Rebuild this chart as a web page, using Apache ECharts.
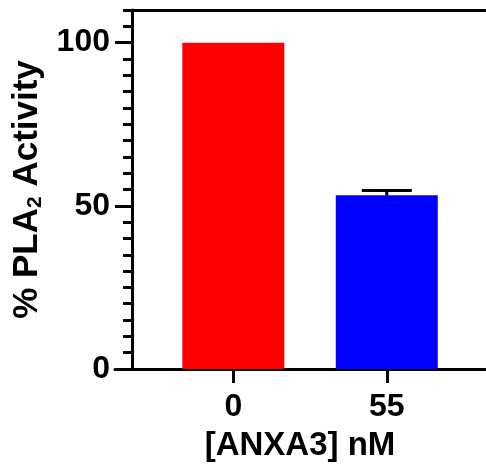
<!DOCTYPE html>
<html>
<head>
<meta charset="utf-8">
<script src="https://cdn.jsdelivr.net/npm/echarts@6/dist/echarts.min.js"></script>
<style>
  html, body { margin: 0; padding: 0; background: #fff; }
  #main { width: 486px; height: 474px; }
</style>
</head>
<body>
<div id="main"></div>
<script>
// data
var categories = ['0', '55'];
var activity = [100, 53.2];
var sem = [0, 1.5];
var barColors = ['#ff0000', '#0000ff'];
var majorTicks = [0, 50, 100];

var font = '"Liberation Sans", Arial, sans-serif';
var chart = echarts.init(document.getElementById('main'));

var barData = activity.map(function (v, i) {
    return { value: [i, v], itemStyle: { color: barColors[i] } };
});
var errData = activity.map(function (v, i) {
    return [i, v, sem[i]];
});

var option = {
    animation: false,
    grid: [
        // bars + bottom axis (axis line starts left of the y axis)
        { left: 115, right: 1, top: 10, height: 359 },
        // y axis + top frame
        { left: 132, right: 1, top: 10, height: 359 }
    ],
    xAxis: [
        {
            gridIndex: 0,
            type: 'value',
            position: 'bottom',
            min: -0.771,
            max: 1.64,
            splitLine: { show: false },
            axisLine: { onZero: false, lineStyle: { color: '#000', width: 3 } },
            axisTick: { customValues: [0, 1], length: 14, lineStyle: { color: '#000', width: 3 } },
            axisLabel: {
                customValues: [0, 1],
                formatter: function (v) { return categories[Math.round(v)]; },
                margin: 22,
                color: '#000',
                fontFamily: font,
                fontWeight: 'bold',
                fontSize: 32
            },
            name: '[ANXA3] nM',
            nameLocation: 'middle',
            nameGap: 60,
            nameTextStyle: { color: '#000', fontFamily: font, fontWeight: 'bold', fontSize: 33 }
        },
        {
            gridIndex: 1,
            type: 'value',
            position: 'top',
            min: 0,
            max: 1,
            splitLine: { show: false },
            axisLine: { onZero: false, lineStyle: { color: '#000', width: 3 } },
            axisTick: { show: false },
            axisLabel: { show: false }
        }
    ],
    yAxis: [
        {
            gridIndex: 0,
            type: 'value',
            min: 0,
            max: 110,
            show: false
        },
        {
            // minor ticks every 5
            gridIndex: 1,
            type: 'value',
            position: 'left',
            min: 0,
            max: 110,
            interval: 5,
            splitLine: { show: false },
            axisLine: { onZero: false, lineStyle: { color: '#000', width: 3 } },
            axisTick: { length: 9, lineStyle: { color: '#000', width: 3 } },
            axisLabel: { show: false }
        },
        {
            // major ticks + labels
            gridIndex: 1,
            type: 'value',
            position: 'left',
            min: 0,
            max: 110,
            splitLine: { show: false },
            axisLine: { show: false, onZero: false },
            axisTick: { customValues: majorTicks, length: 17, lineStyle: { color: '#000', width: 3 } },
            axisLabel: {
                customValues: majorTicks,
                margin: 22,
                color: '#000',
                fontFamily: font,
                fontWeight: 'bold',
                fontSize: 32
            },
            name: '% PLA{sub|2} Activity',
            nameLocation: 'middle',
            nameGap: 77,
            nameTextStyle: {
                color: '#000',
                fontFamily: font,
                fontWeight: 'bold',
                fontSize: 35,
                rich: {
                    sub: {
                        fontFamily: font,
                        fontWeight: 'bold',
                        fontSize: 21,
                        color: '#000',
                        verticalAlign: 'bottom',
                        padding: [15, 0, 0, 0]
                    }
                }
            }
        }
    ],
    series: [
        {
            type: 'bar',
            xAxisIndex: 0,
            yAxisIndex: 0,
            barWidth: 102,
            data: barData
        },
        {
            type: 'custom',
            xAxisIndex: 0,
            yAxisIndex: 0,
            z: 5,
            renderItem: function (params, api) {
                var x = api.value(0), y = api.value(1), e = api.value(2);
                if (!e) return;
                var base = api.coord([x, y]);
                var top = api.coord([x, y + e]);
                var half = 25;
                var style = { stroke: '#000', lineWidth: 3 };
                return {
                    type: 'group',
                    children: [
                        { type: 'line', shape: { x1: base[0], y1: base[1], x2: top[0], y2: top[1] }, style: style },
                        { type: 'line', shape: { x1: top[0] - half, y1: top[1], x2: top[0] + half, y2: top[1] }, style: style }
                    ]
                };
            },
            data: errData
        }
    ]
};
chart.setOption(option);
</script>
</body>
</html>
